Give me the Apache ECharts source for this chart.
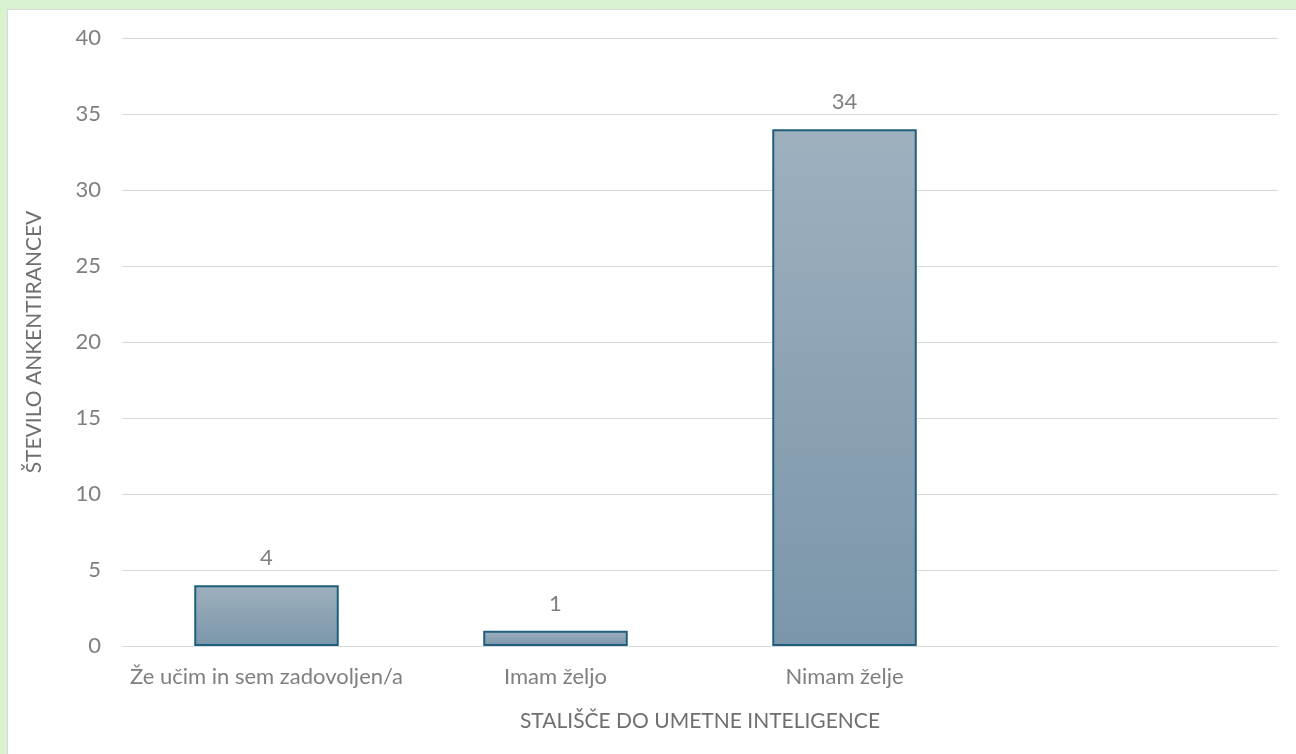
<!DOCTYPE html>
<html>
<head>
<meta charset="utf-8">
<script src="https://cdn.jsdelivr.net/npm/echarts@6/dist/echarts.min.js"></script>
<style>
html,body{margin:0;padding:0;background:#d9f2d0;}
#c{width:1296px;height:754px;}
</style>
</head>
<body>
<div id="c"></div>
<script>
var categories = ['Že učim in sem zadovoljen/a', 'Imam željo', 'Nimam želje', ''];
var values = [4, 1, 34, null];
var yTicks = { min: 0, max: 40, interval: 5 };
var xTitle = 'STALIŠČE DO UMETNE INTELIGENCE';
var yTitle = 'ŠTEVILO ANKENTIRANCEV';

var chart = echarts.init(document.getElementById('c'));
var font = 'Lato, "Open Sans", sans-serif';
chart.setOption({
  backgroundColor: '#d9f2d0',
  animation: false,
  graphic: [{
    type: 'rect', left: 7, top: 9, z: -10,
    shape: { width: 1300, height: 760 },
    style: { fill: '#ffffff', stroke: '#d9d9d9', lineWidth: 1 }
  }],
  grid: { left: 122, right: 18, top: 38, bottom: 108, containLabel: false },
  xAxis: {
    type: 'category',
    data: categories,
    name: xTitle,
    nameLocation: 'middle',
    nameGap: 65,
    nameTextStyle: { color: '#6f6f6f', fontSize: 21, fontFamily: font },
    axisLine: { lineStyle: { color: '#d9d9d9', width: 1 } },
    axisTick: { show: false },
    axisLabel: { color: '#7f7f7f', fontSize: 22, fontFamily: font, margin: 20, interval: 0 }
  },
  yAxis: {
    type: 'value',
    min: yTicks.min, max: yTicks.max, interval: yTicks.interval,
    name: yTitle,
    nameLocation: 'middle',
    nameGap: 77,
    nameTextStyle: { color: '#6f6f6f', fontSize: 21, fontFamily: font },
    axisLine: { show: false },
    axisTick: { show: false },
    splitLine: { lineStyle: { color: '#d9d9d9', width: 1 } },
    axisLabel: { color: '#7f7f7f', fontSize: 22, fontFamily: font, margin: 21 }
  },
  series: [{
    type: 'bar',
    data: values,
    barWidth: '50%',
    itemStyle: {
      color: new echarts.graphic.LinearGradient(0, 0, 0, 1, [
        { offset: 0, color: '#9eb0be' },
        { offset: 1, color: '#7b96ab' }
      ]),
      borderColor: '#1f5f7c',
      borderWidth: 2
    },
    label: {
      show: true, position: 'top', distance: 16,
      color: '#7f7f7f', fontSize: 22, fontFamily: font
    }
  }]
});
</script>
</body>
</html>
